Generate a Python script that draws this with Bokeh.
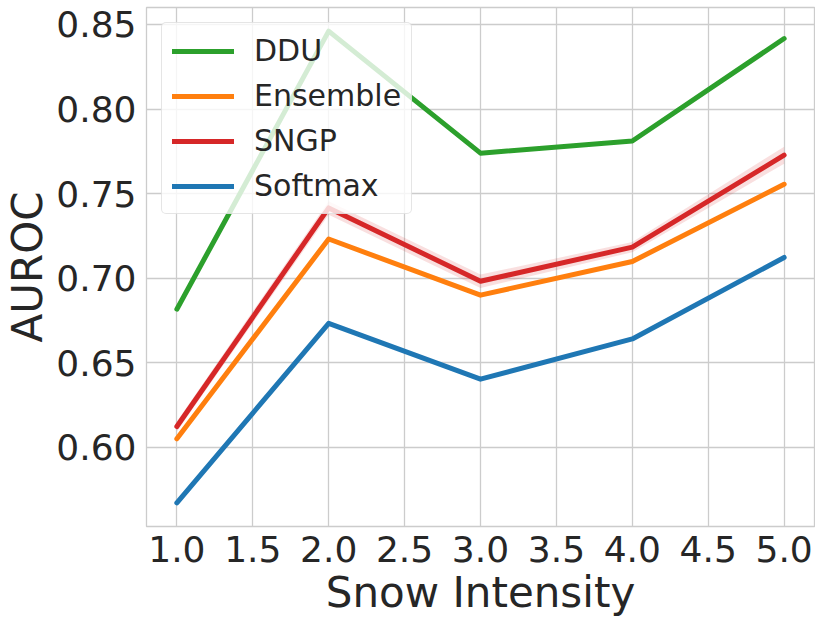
from bokeh.plotting import figure
from bokeh.models import FixedTicker, NumeralTickFormatter, Legend, LegendItem, Range1d
from bokeh.embed import file_html
from bokeh.resources import INLINE

intensity = [1.0, 2.0, 3.0, 4.0, 5.0]
ddu = [0.6816, 0.8461, 0.7739, 0.7811, 0.8417]
ensemble = [0.6049, 0.7231, 0.6899, 0.7098, 0.7555]
sngp = [0.6122, 0.7415, 0.6981, 0.7183, 0.7727]
sngp_std = [0.003, 0.004, 0.004, 0.003, 0.005]
softmax = [0.5670, 0.6732, 0.6402, 0.6640, 0.7122]
x_ticks = [1.0, 1.5, 2.0, 2.5, 3.0, 3.5, 4.0, 4.5, 5.0]
y_ticks = [0.60, 0.65, 0.70, 0.75, 0.80, 0.85]

GREEN, ORANGE, RED, BLUE = "#2ca02c", "#ff7f0e", "#d62728", "#1f77b4"
TXT = "#262626"
GRID = "#cccccc"
FONT = "DejaVu Sans"

sngp_lo = [m - s for m, s in zip(sngp, sngp_std)]
sngp_hi = [m + s for m, s in zip(sngp, sngp_std)]
all_y = ddu + ensemble + sngp_lo + sngp_hi + softmax
ymin, ymax = min(all_y), max(all_y)
ypad = (ymax - ymin) * 0.05
xpad = (max(intensity) - min(intensity)) * 0.05

p = figure(width=815, height=619, output_backend="svg", toolbar_location=None,
           x_range=Range1d(min(intensity) - xpad, max(intensity) + xpad),
           y_range=Range1d(ymin - ypad, ymax + ypad),
           min_border_top=7, min_border_right=1, min_border_left=144, min_border_bottom=4)

p.background_fill_color = "white"
p.border_fill_color = "white"
p.outline_line_color = GRID
p.outline_line_width = 1.3

for ax in (p.xaxis[0], p.yaxis[0]):
    ax.axis_line_color = None
    ax.major_tick_line_color = None
    ax.minor_tick_line_color = None
    ax.major_tick_out = 0
    ax.major_tick_in = 0
    ax.major_label_text_font = FONT
    ax.major_label_text_font_size = "36px"
    ax.major_label_text_color = TXT
    ax.major_label_text_line_height = 0.85
    ax.axis_label_text_font = FONT
    ax.axis_label_text_font_size = "42px"
    ax.axis_label_text_font_style = "normal"
    ax.axis_label_text_color = TXT
    ax.axis_label_text_line_height = 0.85

p.xaxis.ticker = FixedTicker(ticks=x_ticks)
p.yaxis.ticker = FixedTicker(ticks=y_ticks)
p.xaxis.formatter = NumeralTickFormatter(format="0.0")
p.yaxis.formatter = NumeralTickFormatter(format="0.00")
p.xaxis.axis_label = "Snow Intensity"
p.yaxis.axis_label = "AUROC"
p.xaxis.major_label_standoff = 9
p.yaxis.major_label_standoff = 10
p.xaxis.axis_label_standoff = 3
p.yaxis.axis_label_standoff = 1

p.xgrid.grid_line_color = GRID
p.ygrid.grid_line_color = GRID
p.xgrid.grid_line_width = 1.3
p.ygrid.grid_line_width = 1.3

p.varea(x=intensity, y1=sngp_lo, y2=sngp_hi, fill_color=RED, fill_alpha=0.15)

LW = 5
r_soft = p.line(intensity, softmax, line_color=BLUE, line_width=LW, line_cap="round", line_join="round")
r_ens = p.line(intensity, ensemble, line_color=ORANGE, line_width=LW, line_cap="round", line_join="round")
r_sngp = p.line(intensity, sngp, line_color=RED, line_width=LW, line_cap="round", line_join="round")
r_ddu = p.line(intensity, ddu, line_color=GREEN, line_width=LW, line_cap="round", line_join="round")

legend = Legend(items=[
    LegendItem(label="DDU", renderers=[r_ddu]),
    LegendItem(label="Ensemble", renderers=[r_ens]),
    LegendItem(label="SNGP", renderers=[r_sngp]),
    LegendItem(label="Softmax", renderers=[r_soft]),
], location="top_left")
legend.margin = 15
legend.padding = 10
legend.spacing = 10
legend.glyph_width = 62
legend.glyph_height = 34
legend.label_height = 34
legend.label_standoff = 20
legend.label_text_font = FONT
legend.label_text_font_size = "30px"
legend.label_text_color = TXT
legend.background_fill_color = "white"
legend.background_fill_alpha = 0.8
legend.border_line_color = GRID
legend.border_line_width = 1.3
try:
    legend.border_radius = 5
except Exception:
    pass
p.add_layout(legend)

open("out.html", "w").write(file_html(p, INLINE))
